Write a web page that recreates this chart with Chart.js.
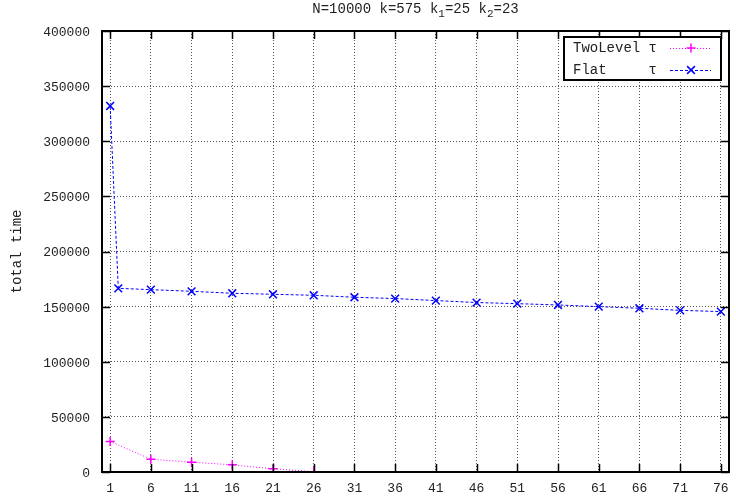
<!DOCTYPE html>
<html>
<head>
<meta charset="utf-8">
<script src="https://cdn.jsdelivr.net/npm/chart.js@4"></script>
<style>
  html, body { margin: 0; padding: 0; background: #fff; }
</style>
</head>
<body>
<canvas id="myChart" width="736" height="497"></canvas>
<script>
// runs: x = parameter value, y = total time
var xTwoLevel = [1, 6, 11, 16, 21, 26];
var twoLevelTime = [27700, 11600, 8900, 6500, 2900, 300];

var xFlat = [1, 2, 6, 11, 16, 21, 26, 31, 36, 41, 46, 51, 56, 61, 66, 71, 76];
var flatTime = [332000, 166600, 165400, 163900, 162100, 161200, 160300, 158500, 157300,
                155500, 153700, 152700, 151500, 150000, 148500, 146600, 145500];

var xTicks = [1, 6, 11, 16, 21, 26, 31, 36, 41, 46, 51, 56, 61, 66, 71, 76];
var yTicks = [0, 50000, 100000, 150000, 200000, 250000, 300000, 350000, 400000];

var seriesNames = ['TwoLevel τ', 'Flat     τ'];
var yTitle = 'total time';
// title pieces: [text, isSubscript]
var titleParts = [['N=10000 k=575 k', false], ['1', true], ['=25 k', false], ['2', true], ['=23', false]];

var FONT = '"Liberation Mono", "Courier New", monospace';

function toPoints(xs, ys) {
    return xs.map(function(x, i) { return { x: x, y: ys[i] }; });
}

// frame, mirrored inward ticks, title and key drawn the gnuplot way
var gnuplotDecor = {
    id: 'gnuplotDecor',
    afterDatasetsDraw: function(chart) {
        var ctx = chart.ctx, a = chart.chartArea;
        var xs = chart.scales.x, ys = chart.scales.y;
        ctx.save();
        ctx.strokeStyle = '#000';
        ctx.setLineDash([]);
        ctx.lineWidth = 1.5;
        ctx.beginPath();
        xTicks.forEach(function(v) {
            var px = Math.round(xs.getPixelForValue(v)) + 0.5;
            ctx.moveTo(px, a.bottom); ctx.lineTo(px, a.bottom - 8);
            ctx.moveTo(px, a.top); ctx.lineTo(px, a.top + 8);
        });
        yTicks.forEach(function(v) {
            var py = Math.round(ys.getPixelForValue(v)) + 0.5;
            ctx.moveTo(a.left, py); ctx.lineTo(a.left + 8, py);
            ctx.moveTo(a.right, py); ctx.lineTo(a.right - 8, py);
        });
        ctx.stroke();
        ctx.lineWidth = 2;
        ctx.strokeRect(a.left, a.top, a.right - a.left, a.bottom - a.top);

        // key box
        var bx = a.right - 165, by = a.top + 6, bw = 157, bh = 43;
        ctx.fillStyle = '#fff';
        ctx.fillRect(bx, by, bw, bh);
        ctx.strokeRect(bx, by, bw, bh);
        ctx.font = '14px ' + FONT;
        ctx.textBaseline = 'middle';
        ctx.textAlign = 'left';
        chart.data.datasets.forEach(function(ds, i) {
            var ry = by + 11 + i * 22;
            ctx.fillStyle = '#222';
            ctx.fillText(ds.label, bx + 9, ry);
            ctx.strokeStyle = ds.borderColor;
            ctx.lineWidth = 1;
            ctx.setLineDash(ds.borderDash);
            ctx.beginPath();
            ctx.moveTo(bx + 106, ry + 0.5);
            ctx.lineTo(bx + 147, ry + 0.5);
            ctx.stroke();
            ctx.setLineDash([]);
            ctx.lineWidth = ds.pointBorderWidth;
            Chart.helpers.drawPoint(ctx, {
                pointStyle: ds.pointStyle, radius: ds.pointRadius,
                borderWidth: ds.pointBorderWidth, rotation: 0
            }, bx + 127, ry);
            ctx.strokeStyle = '#000';
            ctx.lineWidth = 2;
        });
        ctx.restore();
    },
    afterDraw: function(chart) {
        var ctx = chart.ctx, a = chart.chartArea;
        ctx.save();
        ctx.fillStyle = '#222';
        ctx.textBaseline = 'alphabetic';
        ctx.textAlign = 'left';
        var total = 0;
        titleParts.forEach(function(p) {
            ctx.font = (p[1] ? '11px ' : '14px ') + FONT;
            total += ctx.measureText(p[0]).width;
        });
        var x = (a.left + a.right) / 2 - total / 2;
        titleParts.forEach(function(p) {
            ctx.font = (p[1] ? '11px ' : '14px ') + FONT;
            ctx.fillText(p[0], x, p[1] ? 17 : 13);
            x += ctx.measureText(p[0]).width;
        });
        // y axis title
        ctx.font = '14px ' + FONT;
        ctx.translate(17, (a.top + a.bottom) / 2);
        ctx.rotate(-Math.PI / 2);
        ctx.textAlign = 'center';
        ctx.textBaseline = 'middle';
        ctx.fillText(yTitle, 0, 0);
        ctx.restore();
    }
};

var ctx = document.getElementById('myChart').getContext('2d');
var myChart = new Chart(ctx, {
    type: 'line',
    data: {
        datasets: [{
            label: seriesNames[0],
            data: toPoints(xTwoLevel, twoLevelTime),
            borderColor: '#ff00ff',
            backgroundColor: '#ff00ff',
            borderWidth: 1,
            borderDash: [1, 2],
            pointStyle: 'cross',
            pointRadius: 4.5,
            pointBorderWidth: 1.5,
            tension: 0,
            fill: false
        }, {
            label: seriesNames[1],
            data: toPoints(xFlat, flatTime),
            borderColor: '#0000ff',
            backgroundColor: '#0000ff',
            borderWidth: 1,
            borderDash: [3, 2],
            pointStyle: 'crossRot',
            pointRadius: 5.5,
            pointBorderWidth: 1.5,
            tension: 0,
            fill: false
        }]
    },
    options: {
        responsive: false,
        animation: false,
        events: [],
        layout: { padding: { top: 31, right: 5, left: 0, bottom: 0 } },
        plugins: {
            legend: { display: false },
            title: { display: false },
            tooltip: { enabled: false }
        },
        scales: {
            x: {
                type: 'linear',
                min: 0,
                max: 77,
                afterBuildTicks: function(scale) {
                    scale.ticks = xTicks.map(function(v) { return { value: v }; });
                },
                afterFit: function(scale) {
                    scale.height = 25;
                    scale.paddingLeft = 0;
                    scale.paddingRight = 0;
                },
                ticks: {
                    autoSkip: false,
                    maxRotation: 0,
                    padding: 9,
                    color: '#222',
                    font: { family: FONT, size: 13 },
                    callback: function(v) { return String(v); }
                },
                grid: { color: '#555', lineWidth: 1, drawTicks: false },
                border: { display: false, dash: [1, 2] }
            },
            y: {
                min: 0,
                max: 400000,
                afterBuildTicks: function(scale) {
                    scale.ticks = yTicks.map(function(v) { return { value: v }; });
                },
                afterFit: function(scale) { scale.width = 102; },
                ticks: {
                    padding: 12,
                    labelOffset: 1.5,
                    color: '#222',
                    font: { family: FONT, size: 13 },
                    callback: function(v) { return String(v); }
                },
                grid: { color: '#555', lineWidth: 1, drawTicks: false },
                border: { display: false, dash: [1, 2] }
            }
        }
    },
    plugins: [gnuplotDecor]
});
</script>
</body>
</html>
